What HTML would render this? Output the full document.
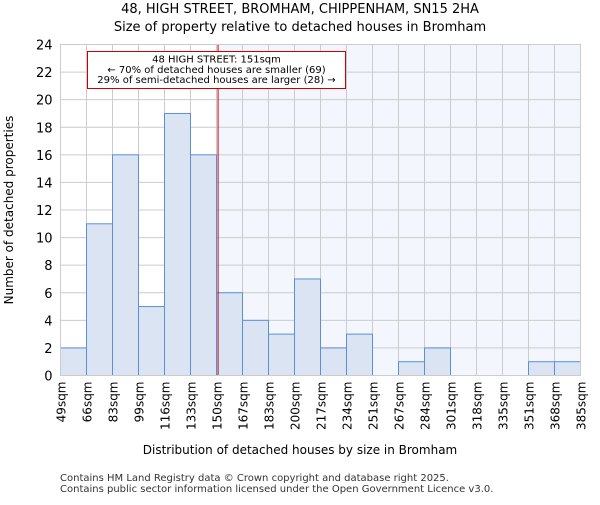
<!DOCTYPE html>
<html><head><meta charset="utf-8"><style>body{margin:0;background:#fff}svg{font-family:"DejaVu Sans","Liberation Sans",sans-serif}</style></head>
<body>
<svg id="chart" width="600" height="500">
<text x="300" y="13" text-anchor="middle" font-size="13">48, HIGH STREET, BROMHAM, CHIPPENHAM, SN15 2HA</text>
<text x="300" y="31" text-anchor="middle" font-size="13">Size of property relative to detached houses in Bromham</text>
<g id="plot"></g>
<text x="300" y="454" text-anchor="middle" font-size="12">Distribution of detached houses by size in Bromham</text>
<text transform="translate(13,210) rotate(-90)" text-anchor="middle" font-size="12">Number of detached properties</text>
<text x="60" y="481" font-size="10" fill="#333">Contains HM Land Registry data © Crown copyright and database right 2025.</text>
<text x="60" y="492" font-size="10" fill="#333">Contains public sector information licensed under the Open Government Licence v3.0.</text>
</svg>
<script>
const binEdges = ["49sqm","66sqm","83sqm","99sqm","116sqm","133sqm","150sqm","167sqm","183sqm","200sqm","217sqm","234sqm","251sqm","267sqm","284sqm","301sqm","318sqm","335sqm","351sqm","368sqm","385sqm"];
const counts = [2,11,16,5,19,16,6,4,3,7,2,3,0,1,2,0,0,0,1,1];
const yTicks = [0,2,4,6,8,10,12,14,16,18,20,22,24];
const markerBinPos = 6.06; // 151sqm in bin units
const NS="http://www.w3.org/2000/svg";
const L=60.5,R=580.5,T=44.5,B=375.5,yMax=24;
const bw=(R-L)/counts.length;
const xs=i=>L+i*bw;
const ys=v=>B-v/yMax*(B-T);
const g=document.getElementById('plot');
function mk(t,a){const e=document.createElementNS(NS,t);for(const k in a)e.setAttribute(k,a[k]);g.appendChild(e);return e;}
const mx=xs(markerBinPos);
let e=mk('rect',{x:mx,y:T,width:R-mx,height:B-T,fill:'#f3f6fd'});


yTicks.forEach(v=>{
 let l=mk('line',{x1:L,x2:R,y1:ys(v),y2:ys(v),stroke:'#cccccc','stroke-width':1});
 
 
 let t=mk('text',{x:L-8,y:ys(v)+5,'text-anchor':'end','font-size':13});
 t.textContent=v;
 
 
});
binEdges.forEach((s,i)=>{
 let l=mk('line',{x1:xs(i),x2:xs(i),y1:T,y2:B,stroke:'#cccccc','stroke-width':1});
 
 
 let t=mk('text',{transform:`translate(${xs(i)+5},${B+6}) rotate(-90)`,'text-anchor':'end','font-size':12});
 t.textContent=s;
 
 
});
counts.forEach((c,i)=>{
 if(c<=0)return;
 let r=mk('rect',{x:xs(i),y:ys(c),width:bw,height:B-ys(c),fill:'#dae4f3',stroke:'#5b8fd6','stroke-width':1});
 
 
});
let ml=mk('line',{x1:mx,x2:mx,y1:T,y2:B,stroke:'#cc0000','stroke-width':1});


let ax=mk('rect',{x:L,y:T,width:R-L,height:B-T,fill:'none',stroke:'#cccccc'});


let bx=mk('rect',{x:87.5,y:51.5,width:258,height:37,fill:'#fff',stroke:'#cc0000','stroke-width':1});


["48 HIGH STREET: 151sqm","← 70% of detached houses are smaller (69)","29% of semi-detached houses are larger (28) →"].forEach((s,i)=>{
 let t=mk('text',{x:216.5,y:62.5+i*10.3,'text-anchor':'middle','font-size':10});
 t.textContent=s;
 
 
});
</script>
</body></html>
